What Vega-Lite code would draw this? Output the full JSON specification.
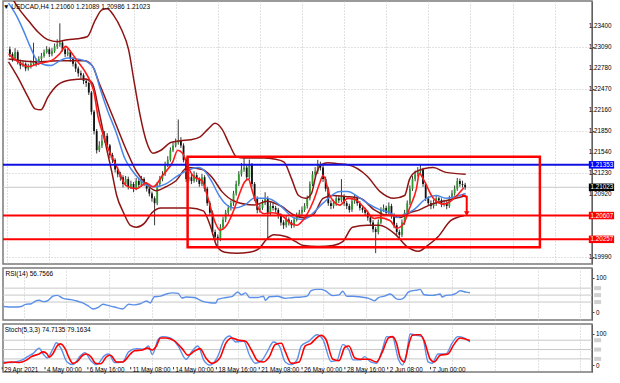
{
"$schema": "https://vega.github.io/schema/vega-lite/v6.json",
"padding": 0,
"background": "#ffffff",
"spacing": 2,
"config": {
 "view": {"stroke": "#7a7a7a", "strokeWidth": 1.5},
 "font": "Liberation Sans",
 "axis": {"labelFont": "Liberation Sans", "labelFontSize": 6.3, "labelColor": "#000000", "tickColor": "#404040", "domainColor": "#606060", "gridColor": "#c4c4c4", "gridDash": [1, 2], "gridWidth": 1},
 "title": {"font": "Liberation Sans", "fontSize": 6.5, "fontWeight": "normal", "color": "#000000", "anchor": "start"}
},
"datasets": {
 "candles": [
{"i":1,"o":1.23053,"h":1.23095,"l":1.22940,"c":1.22983},
{"i":2,"o":1.22983,"h":1.23010,"l":1.22870,"c":1.22912},
{"i":3,"o":1.22912,"h":1.23070,"l":1.22890,"c":1.23011},
{"i":4,"o":1.23011,"h":1.23040,"l":1.22830,"c":1.22869},
{"i":5,"o":1.22869,"h":1.22900,"l":1.22760,"c":1.22813},
{"i":6,"o":1.22813,"h":1.22880,"l":1.22790,"c":1.22841},
{"i":7,"o":1.22841,"h":1.22860,"l":1.22730,"c":1.22770},
{"i":8,"o":1.22770,"h":1.22840,"l":1.22740,"c":1.22799},
{"i":9,"o":1.22799,"h":1.22890,"l":1.22770,"c":1.22841},
{"i":10,"o":1.22841,"h":1.23150,"l":1.22820,"c":1.22883},
{"i":11,"o":1.22883,"h":1.22920,"l":1.22800,"c":1.22841},
{"i":12,"o":1.22841,"h":1.22950,"l":1.22820,"c":1.22912},
{"i":13,"o":1.22912,"h":1.23000,"l":1.22880,"c":1.22954},
{"i":14,"o":1.22954,"h":1.23050,"l":1.22930,"c":1.23011},
{"i":15,"o":1.23011,"h":1.23100,"l":1.22990,"c":1.23053},
{"i":16,"o":1.23053,"h":1.23080,"l":1.22940,"c":1.22983},
{"i":17,"o":1.22983,"h":1.23070,"l":1.22950,"c":1.23025},
{"i":18,"o":1.23025,"h":1.23140,"l":1.23000,"c":1.23096},
{"i":19,"o":1.23096,"h":1.23200,"l":1.23060,"c":1.23124},
{"i":20,"o":1.23124,"h":1.23435,"l":1.23090,"c":1.23152},
{"i":21,"o":1.23152,"h":1.23190,"l":1.23020,"c":1.23053},
{"i":22,"o":1.23053,"h":1.23080,"l":1.22940,"c":1.22983},
{"i":23,"o":1.22983,"h":1.23060,"l":1.22950,"c":1.23011},
{"i":24,"o":1.23011,"h":1.23040,"l":1.22870,"c":1.22912},
{"i":25,"o":1.22912,"h":1.22940,"l":1.22800,"c":1.22841},
{"i":26,"o":1.22841,"h":1.22870,"l":1.22720,"c":1.22770},
{"i":27,"o":1.22770,"h":1.22800,"l":1.22650,"c":1.22700},
{"i":28,"o":1.22700,"h":1.22740,"l":1.22620,"c":1.22671},
{"i":29,"o":1.22671,"h":1.22700,"l":1.22540,"c":1.22586},
{"i":30,"o":1.22586,"h":1.22620,"l":1.22500,"c":1.22558},
{"i":31,"o":1.22558,"h":1.22580,"l":1.22380,"c":1.22417},
{"i":32,"o":1.22417,"h":1.22440,"l":1.22090,"c":1.22134},
{"i":33,"o":1.22134,"h":1.22160,"l":1.21800,"c":1.21851},
{"i":34,"o":1.21851,"h":1.21880,"l":1.21520,"c":1.21568},
{"i":35,"o":1.21568,"h":1.21700,"l":1.21540,"c":1.21638},
{"i":36,"o":1.21638,"h":1.21800,"l":1.21600,"c":1.21709},
{"i":37,"o":1.21709,"h":1.21850,"l":1.21680,"c":1.21780},
{"i":38,"o":1.21780,"h":1.21820,"l":1.21600,"c":1.21638},
{"i":39,"o":1.21638,"h":1.21660,"l":1.21450,"c":1.21497},
{"i":40,"o":1.21497,"h":1.21530,"l":1.21380,"c":1.21426},
{"i":41,"o":1.21426,"h":1.21450,"l":1.21240,"c":1.21285},
{"i":42,"o":1.21285,"h":1.21320,"l":1.21170,"c":1.21214},
{"i":43,"o":1.21214,"h":1.21250,"l":1.21120,"c":1.21171},
{"i":44,"o":1.21171,"h":1.21200,"l":1.21020,"c":1.21072},
{"i":45,"o":1.21072,"h":1.21190,"l":1.21040,"c":1.21143},
{"i":46,"o":1.21143,"h":1.21180,"l":1.20990,"c":1.21030},
{"i":47,"o":1.21030,"h":1.21120,"l":1.21000,"c":1.21072},
{"i":48,"o":1.21072,"h":1.21100,"l":1.20950,"c":1.21002},
{"i":49,"o":1.21002,"h":1.21160,"l":1.20980,"c":1.21115},
{"i":50,"o":1.21115,"h":1.21150,"l":1.21010,"c":1.21058},
{"i":51,"o":1.21058,"h":1.21190,"l":1.21030,"c":1.21143},
{"i":52,"o":1.21143,"h":1.21170,"l":1.21040,"c":1.21072},
{"i":53,"o":1.21072,"h":1.21100,"l":1.20960,"c":1.21002},
{"i":54,"o":1.21002,"h":1.21030,"l":1.20890,"c":1.20931},
{"i":55,"o":1.20931,"h":1.20960,"l":1.20810,"c":1.20860},
{"i":56,"o":1.20860,"h":1.20890,"l":1.20464,"c":1.20789},
{"i":57,"o":1.20789,"h":1.21100,"l":1.20760,"c":1.21072},
{"i":58,"o":1.21072,"h":1.21190,"l":1.21040,"c":1.21143},
{"i":59,"o":1.21143,"h":1.21260,"l":1.21110,"c":1.21214},
{"i":60,"o":1.21214,"h":1.21400,"l":1.21190,"c":1.21355},
{"i":61,"o":1.21355,"h":1.21480,"l":1.21320,"c":1.21426},
{"i":62,"o":1.21426,"h":1.21610,"l":1.21400,"c":1.21568},
{"i":63,"o":1.21568,"h":1.21690,"l":1.21540,"c":1.21638},
{"i":64,"o":1.21638,"h":1.21740,"l":1.21610,"c":1.21681},
{"i":65,"o":1.21681,"h":1.22020,"l":1.21650,"c":1.21709},
{"i":66,"o":1.21709,"h":1.21760,"l":1.21600,"c":1.21638},
{"i":67,"o":1.21638,"h":1.21670,"l":1.21390,"c":1.21426},
{"i":68,"o":1.21426,"h":1.21460,"l":1.21100,"c":1.21143},
{"i":69,"o":1.21143,"h":1.21250,"l":1.21110,"c":1.21171},
{"i":70,"o":1.21171,"h":1.21220,"l":1.21070,"c":1.21115},
{"i":71,"o":1.21115,"h":1.21260,"l":1.21090,"c":1.21200},
{"i":72,"o":1.21200,"h":1.21240,"l":1.21100,"c":1.21143},
{"i":73,"o":1.21143,"h":1.21170,"l":1.21030,"c":1.21072},
{"i":74,"o":1.21072,"h":1.21220,"l":1.21040,"c":1.21171},
{"i":75,"o":1.21171,"h":1.21200,"l":1.20960,"c":1.21002},
{"i":76,"o":1.21002,"h":1.21030,"l":1.20750,"c":1.20789},
{"i":77,"o":1.20789,"h":1.20820,"l":1.20600,"c":1.20648},
{"i":78,"o":1.20648,"h":1.20680,"l":1.20320,"c":1.20365},
{"i":79,"o":1.20365,"h":1.20400,"l":1.20240,"c":1.20294},
{"i":80,"o":1.20294,"h":1.20330,"l":1.20153,"c":1.20266},
{"i":81,"o":1.20266,"h":1.20480,"l":1.20230,"c":1.20436},
{"i":82,"o":1.20436,"h":1.20590,"l":1.20400,"c":1.20549},
{"i":83,"o":1.20549,"h":1.20690,"l":1.20510,"c":1.20648},
{"i":84,"o":1.20648,"h":1.20760,"l":1.20610,"c":1.20719},
{"i":85,"o":1.20719,"h":1.20830,"l":1.20680,"c":1.20789},
{"i":86,"o":1.20789,"h":1.20970,"l":1.20750,"c":1.20931},
{"i":87,"o":1.20931,"h":1.21120,"l":1.20900,"c":1.21072},
{"i":88,"o":1.21072,"h":1.21260,"l":1.21040,"c":1.21214},
{"i":89,"o":1.21214,"h":1.21380,"l":1.21180,"c":1.21285},
{"i":90,"o":1.21285,"h":1.21454,"l":1.21250,"c":1.21313},
{"i":91,"o":1.21313,"h":1.21350,"l":1.21130,"c":1.21171},
{"i":92,"o":1.21171,"h":1.21430,"l":1.21140,"c":1.21355},
{"i":93,"o":1.21355,"h":1.21380,"l":1.21030,"c":1.21072},
{"i":94,"o":1.21072,"h":1.21100,"l":1.20820,"c":1.20860},
{"i":95,"o":1.20860,"h":1.20890,"l":1.20640,"c":1.20691},
{"i":96,"o":1.20691,"h":1.20780,"l":1.20650,"c":1.20719},
{"i":97,"o":1.20719,"h":1.20840,"l":1.20690,"c":1.20789},
{"i":98,"o":1.20789,"h":1.20950,"l":1.20760,"c":1.20860},
{"i":99,"o":1.20860,"h":1.20890,"l":1.20266,"c":1.20648},
{"i":100,"o":1.20648,"h":1.20800,"l":1.20610,"c":1.20747},
{"i":101,"o":1.20747,"h":1.20790,"l":1.20680,"c":1.20719},
{"i":102,"o":1.20719,"h":1.20750,"l":1.20650,"c":1.20691},
{"i":103,"o":1.20691,"h":1.20720,"l":1.20560,"c":1.20605},
{"i":104,"o":1.20605,"h":1.20640,"l":1.20460,"c":1.20506},
{"i":105,"o":1.20506,"h":1.20540,"l":1.20410,"c":1.20464},
{"i":106,"o":1.20464,"h":1.20600,"l":1.20430,"c":1.20549},
{"i":107,"o":1.20549,"h":1.20580,"l":1.20460,"c":1.20506},
{"i":108,"o":1.20506,"h":1.20540,"l":1.20420,"c":1.20464},
{"i":109,"o":1.20464,"h":1.20590,"l":1.20430,"c":1.20549},
{"i":110,"o":1.20549,"h":1.20650,"l":1.20520,"c":1.20605},
{"i":111,"o":1.20605,"h":1.20690,"l":1.20570,"c":1.20648},
{"i":112,"o":1.20648,"h":1.20740,"l":1.20610,"c":1.20691},
{"i":113,"o":1.20691,"h":1.20790,"l":1.20660,"c":1.20747},
{"i":114,"o":1.20747,"h":1.20900,"l":1.20710,"c":1.20860},
{"i":115,"o":1.20860,"h":1.21110,"l":1.20830,"c":1.21072},
{"i":116,"o":1.21072,"h":1.21260,"l":1.21040,"c":1.21214},
{"i":117,"o":1.21214,"h":1.21320,"l":1.21180,"c":1.21256},
{"i":118,"o":1.21256,"h":1.21426,"l":1.21220,"c":1.21355},
{"i":119,"o":1.21355,"h":1.21400,"l":1.21270,"c":1.21313},
{"i":120,"o":1.21313,"h":1.21350,"l":1.21100,"c":1.21143},
{"i":121,"o":1.21143,"h":1.21180,"l":1.20960,"c":1.21002},
{"i":122,"o":1.21002,"h":1.21030,"l":1.20750,"c":1.20789},
{"i":123,"o":1.20789,"h":1.20830,"l":1.20700,"c":1.20747},
{"i":124,"o":1.20747,"h":1.20840,"l":1.20710,"c":1.20789},
{"i":125,"o":1.20789,"h":1.20900,"l":1.20750,"c":1.20860},
{"i":126,"o":1.20860,"h":1.20900,"l":1.20790,"c":1.20832},
{"i":127,"o":1.20832,"h":1.21143,"l":1.20800,"c":1.20888},
{"i":128,"o":1.20888,"h":1.20920,"l":1.20750,"c":1.20789},
{"i":129,"o":1.20789,"h":1.20820,"l":1.20700,"c":1.20747},
{"i":130,"o":1.20747,"h":1.20780,"l":1.20650,"c":1.20691},
{"i":131,"o":1.20691,"h":1.20860,"l":1.20660,"c":1.20817},
{"i":132,"o":1.20817,"h":1.20910,"l":1.20780,"c":1.20860},
{"i":133,"o":1.20860,"h":1.20890,"l":1.20750,"c":1.20789},
{"i":134,"o":1.20789,"h":1.20820,"l":1.20680,"c":1.20719},
{"i":135,"o":1.20719,"h":1.20750,"l":1.20650,"c":1.20691},
{"i":136,"o":1.20691,"h":1.20720,"l":1.20600,"c":1.20648},
{"i":137,"o":1.20648,"h":1.20680,"l":1.20530,"c":1.20577},
{"i":138,"o":1.20577,"h":1.20610,"l":1.20460,"c":1.20506},
{"i":139,"o":1.20506,"h":1.20540,"l":1.20360,"c":1.20407},
{"i":140,"o":1.20407,"h":1.20440,"l":1.20054,"c":1.20365},
{"i":141,"o":1.20365,"h":1.20550,"l":1.20330,"c":1.20506},
{"i":142,"o":1.20506,"h":1.20730,"l":1.20480,"c":1.20691},
{"i":143,"o":1.20691,"h":1.20770,"l":1.20660,"c":1.20719},
{"i":144,"o":1.20719,"h":1.20750,"l":1.20610,"c":1.20648},
{"i":145,"o":1.20648,"h":1.20800,"l":1.20620,"c":1.20747},
{"i":146,"o":1.20747,"h":1.20780,"l":1.20560,"c":1.20605},
{"i":147,"o":1.20605,"h":1.20640,"l":1.20420,"c":1.20464},
{"i":148,"o":1.20464,"h":1.20500,"l":1.20320,"c":1.20365},
{"i":149,"o":1.20365,"h":1.20400,"l":1.20270,"c":1.20323},
{"i":150,"o":1.20323,"h":1.20550,"l":1.20290,"c":1.20506},
{"i":151,"o":1.20506,"h":1.20690,"l":1.20470,"c":1.20648},
{"i":152,"o":1.20648,"h":1.20830,"l":1.20610,"c":1.20789},
{"i":153,"o":1.20789,"h":1.21050,"l":1.20760,"c":1.21002},
{"i":154,"o":1.21002,"h":1.21190,"l":1.20970,"c":1.21143},
{"i":155,"o":1.21143,"h":1.21270,"l":1.21110,"c":1.21214},
{"i":156,"o":1.21214,"h":1.21320,"l":1.21180,"c":1.21256},
{"i":157,"o":1.21256,"h":1.21355,"l":1.21230,"c":1.21285},
{"i":158,"o":1.21285,"h":1.21310,"l":1.21030,"c":1.21072},
{"i":159,"o":1.21072,"h":1.21100,"l":1.20820,"c":1.20860},
{"i":160,"o":1.20860,"h":1.20890,"l":1.20750,"c":1.20789},
{"i":161,"o":1.20789,"h":1.20830,"l":1.20700,"c":1.20747},
{"i":162,"o":1.20747,"h":1.20840,"l":1.20710,"c":1.20789},
{"i":163,"o":1.20789,"h":1.20910,"l":1.20750,"c":1.20860},
{"i":164,"o":1.20860,"h":1.20880,"l":1.20790,"c":1.20832},
{"i":165,"o":1.20832,"h":1.20860,"l":1.20730,"c":1.20775},
{"i":166,"o":1.20775,"h":1.20840,"l":1.20740,"c":1.20789},
{"i":167,"o":1.20789,"h":1.20820,"l":1.20700,"c":1.20747},
{"i":168,"o":1.20747,"h":1.20900,"l":1.20720,"c":1.20860},
{"i":169,"o":1.20860,"h":1.20980,"l":1.20830,"c":1.20931},
{"i":170,"o":1.20931,"h":1.21050,"l":1.20900,"c":1.21002},
{"i":171,"o":1.21002,"h":1.21160,"l":1.20970,"c":1.21115},
{"i":172,"o":1.21115,"h":1.21150,"l":1.21030,"c":1.21072},
{"i":173,"o":1.21072,"h":1.21120,"l":1.21020,"c":1.21060},
{"i":174,"o":1.21060,"h":1.21089,"l":1.20986,"c":1.21023}
 ],
 "bb": [
{"b":"u","i":0.5,"v":1.23902},{"b":"u","i":4.2,"v":1.23662},{"b":"u","i":8.0,"v":1.23478},{"b":"u","i":11.7,"v":1.23308},{"b":"u","i":15.4,"v":1.23195},{"b":"u","i":19.2,"v":1.23166},{"b":"u","i":22.9,"v":1.23195},{"b":"u","i":26.6,"v":1.23209},{"b":"u","i":30.4,"v":1.23237},{"b":"u","i":33.4,"v":1.23478},{"b":"u","i":36.0,"v":1.23633},{"b":"u","i":37.9,"v":1.23648},{"b":"u","i":40.5,"v":1.23549},{"b":"u","i":43.5,"v":1.23336},{"b":"u","i":46.1,"v":1.23053},{"b":"u","i":48.3,"v":1.22558},{"b":"u","i":50.6,"v":1.22063},{"b":"u","i":52.8,"v":1.21709},{"b":"u","i":55.4,"v":1.21525},{"b":"u","i":58.4,"v":1.21568},{"b":"u","i":62.1,"v":1.21681},{"b":"u","i":65.9,"v":1.21709},{"b":"u","i":69.6,"v":1.21723},{"b":"u","i":73.3,"v":1.21766},{"b":"u","i":76.3,"v":1.21879},{"b":"u","i":79.0,"v":1.21964},{"b":"u","i":81.6,"v":1.21879},{"b":"u","i":84.6,"v":1.21638},{"b":"u","i":87.2,"v":1.21468},{"b":"u","i":90.2,"v":1.21454},{"b":"u","i":97.6,"v":1.21454},{"b":"u","i":101.4,"v":1.21440},{"b":"u","i":105.1,"v":1.21398},{"b":"u","i":108.1,"v":1.21143},{"b":"u","i":110.7,"v":1.20902},{"b":"u","i":113.3,"v":1.20860},{"b":"u","i":115.6,"v":1.20931},{"b":"u","i":117.4,"v":1.21214},{"b":"u","i":119.3,"v":1.21355},{"b":"u","i":121.9,"v":1.21384},{"b":"u","i":125.6,"v":1.21369},{"b":"u","i":129.4,"v":1.21355},{"b":"u","i":136.8,"v":1.21186},{"b":"u","i":141.7,"v":1.20959},{"b":"u","i":146.9,"v":1.20860},{"b":"u","i":151.0,"v":1.20902},{"b":"u","i":152.9,"v":1.21143},{"b":"u","i":155.5,"v":1.21256},{"b":"u","i":161.9,"v":1.21313},{"b":"u","i":166.7,"v":1.21242},{"b":"u","i":174.2,"v":1.21214},
{"b":"l","i":0.5,"v":1.22869},{"b":"l","i":4.2,"v":1.22629},{"b":"l","i":8.0,"v":1.22346},{"b":"l","i":10.6,"v":1.22176},{"b":"l","i":12.8,"v":1.22162},{"b":"l","i":15.4,"v":1.22346},{"b":"l","i":19.2,"v":1.22530},{"b":"l","i":24.0,"v":1.22600},{"b":"l","i":29.6,"v":1.22615},{"b":"l","i":32.3,"v":1.22558},{"b":"l","i":34.9,"v":1.22134},{"b":"l","i":37.9,"v":1.21568},{"b":"l","i":39.7,"v":1.21256},{"b":"l","i":41.6,"v":1.20902},{"b":"l","i":44.2,"v":1.20648},{"b":"l","i":46.8,"v":1.20464},{"b":"l","i":49.1,"v":1.20436},{"b":"l","i":52.1,"v":1.20492},{"b":"l","i":55.0,"v":1.20648},{"b":"l","i":58.4,"v":1.20719},{"b":"l","i":69.6,"v":1.20719},{"b":"l","i":74.5,"v":1.20676},{"b":"l","i":77.1,"v":1.20464},{"b":"l","i":79.7,"v":1.20153},{"b":"l","i":82.7,"v":1.20068},{"b":"l","i":87.2,"v":1.20054},{"b":"l","i":92.0,"v":1.20068},{"b":"l","i":95.8,"v":1.20124},{"b":"l","i":98.4,"v":1.20252},{"b":"l","i":101.4,"v":1.20323},{"b":"l","i":106.2,"v":1.20294},{"b":"l","i":109.6,"v":1.20223},{"b":"l","i":112.6,"v":1.20167},{"b":"l","i":118.2,"v":1.20153},{"b":"l","i":123.8,"v":1.20167},{"b":"l","i":127.5,"v":1.20223},{"b":"l","i":131.2,"v":1.20436},{"b":"l","i":136.8,"v":1.20464},{"b":"l","i":141.3,"v":1.20464},{"b":"l","i":147.3,"v":1.20337},{"b":"l","i":151.8,"v":1.20153},{"b":"l","i":156.3,"v":1.20082},{"b":"l","i":159.3,"v":1.20153},{"b":"l","i":163.7,"v":1.20294},{"b":"l","i":168.6,"v":1.20535},{"b":"l","i":173.5,"v":1.20605},
{"b":"m","i":0.5,"v":1.22912},{"b":"m","i":11.7,"v":1.22869},{"b":"m","i":20.3,"v":1.22883},{"b":"m","i":29.3,"v":1.22883},{"b":"m","i":32.3,"v":1.22813},{"b":"m","i":34.9,"v":1.22558},{"b":"m","i":37.9,"v":1.22275},{"b":"m","i":41.6,"v":1.21921},{"b":"m","i":45.3,"v":1.21568},{"b":"m","i":49.1,"v":1.21256},{"b":"m","i":52.8,"v":1.21072},{"b":"m","i":56.5,"v":1.20973},{"b":"m","i":60.3,"v":1.21030},{"b":"m","i":64.0,"v":1.21115},{"b":"m","i":68.5,"v":1.21313},{"b":"m","i":74.1,"v":1.21285},{"b":"m","i":77.8,"v":1.21171},{"b":"m","i":81.6,"v":1.20959},{"b":"m","i":86.4,"v":1.20817},{"b":"m","i":93.9,"v":1.20761},{"b":"m","i":98.7,"v":1.20817},{"b":"m","i":104.0,"v":1.20747},{"b":"m","i":108.8,"v":1.20619},{"b":"m","i":112.6,"v":1.20577},{"b":"m","i":116.3,"v":1.20619},{"b":"m","i":120.0,"v":1.20860},{"b":"m","i":123.8,"v":1.20902},{"b":"m","i":128.6,"v":1.20888},{"b":"m","i":134.2,"v":1.20860},{"b":"m","i":139.5,"v":1.20690},{"b":"m","i":143.2,"v":1.20619},{"b":"m","i":146.9,"v":1.20605},{"b":"m","i":149.2,"v":1.20577},{"b":"m","i":152.9,"v":1.20648},{"b":"m","i":156.6,"v":1.20690},{"b":"m","i":160.4,"v":1.20761},{"b":"m","i":165.6,"v":1.20817},{"b":"m","i":170.5,"v":1.20860},{"b":"m","i":174.2,"v":1.20902}
 ],
 "slow": [
{"i":0.5,"v":1.23732},{"i":3.5,"v":1.23549},{"i":6.1,"v":1.23336},{"i":8.7,"v":1.23096},{"i":11.7,"v":1.22869},{"i":16.6,"v":1.22813},{"i":19.9,"v":1.22883},{"i":22.9,"v":1.22926},{"i":26.6,"v":1.22912},{"i":30.4,"v":1.22869},{"i":33.0,"v":1.22770},{"i":35.2,"v":1.22487},{"i":37.9,"v":1.22176},{"i":41.6,"v":1.21808},{"i":44.6,"v":1.21454},{"i":47.2,"v":1.21285},{"i":50.2,"v":1.21143},{"i":53.5,"v":1.21044},{"i":56.5,"v":1.21030},{"i":60.3,"v":1.21072},{"i":64.0,"v":1.21171},{"i":67.7,"v":1.21256},{"i":72.6,"v":1.21313},{"i":75.2,"v":1.21256},{"i":77.8,"v":1.21101},{"i":80.1,"v":1.20931},{"i":82.7,"v":1.20789},{"i":86.4,"v":1.20719},{"i":90.2,"v":1.20761},{"i":93.9,"v":1.20860},{"i":98.7,"v":1.20860},{"i":104.0,"v":1.20747},{"i":108.8,"v":1.20577},{"i":112.6,"v":1.20549},{"i":116.3,"v":1.20648},{"i":120.0,"v":1.20789},{"i":126.4,"v":1.20959},{"i":129.4,"v":1.20959},{"i":133.1,"v":1.20888},{"i":136.8,"v":1.20789},{"i":141.7,"v":1.20690},{"i":145.4,"v":1.20648},{"i":148.1,"v":1.20577},{"i":149.9,"v":1.20605},{"i":154.4,"v":1.20690},{"i":159.3,"v":1.20860},{"i":163.0,"v":1.20902},{"i":166.7,"v":1.20860},{"i":170.5,"v":1.20888},{"i":174.2,"v":1.20931}
 ],
 "fast": [
{"i":0.5,"v":1.22983},{"i":4.2,"v":1.22869},{"i":8.0,"v":1.22799},{"i":11.7,"v":1.22841},{"i":16.6,"v":1.22883},{"i":19.9,"v":1.22983},{"i":22.2,"v":1.23096},{"i":24.0,"v":1.23025},{"i":26.6,"v":1.22883},{"i":29.3,"v":1.22742},{"i":31.5,"v":1.22586},{"i":33.0,"v":1.22417},{"i":34.5,"v":1.22063},{"i":36.0,"v":1.21851},{"i":37.9,"v":1.21638},{"i":41.6,"v":1.21327},{"i":45.3,"v":1.21044},{"i":49.1,"v":1.21002},{"i":52.8,"v":1.21086},{"i":55.4,"v":1.21030},{"i":59.1,"v":1.21200},{"i":62.9,"v":1.21398},{"i":64.8,"v":1.21568},{"i":66.6,"v":1.21525},{"i":68.5,"v":1.21341},{"i":70.7,"v":1.21186},{"i":74.1,"v":1.21115},{"i":76.3,"v":1.20860},{"i":79.0,"v":1.20506},{"i":80.8,"v":1.20393},{"i":83.4,"v":1.20464},{"i":86.4,"v":1.20719},{"i":88.3,"v":1.20931},{"i":90.2,"v":1.21101},{"i":91.6,"v":1.21143},{"i":93.1,"v":1.20973},{"i":95.0,"v":1.20747},{"i":97.6,"v":1.20634},{"i":100.6,"v":1.20648},{"i":104.0,"v":1.20619},{"i":107.7,"v":1.20492},{"i":110.0,"v":1.20464},{"i":112.6,"v":1.20549},{"i":116.3,"v":1.20817},{"i":118.9,"v":1.21101},{"i":120.0,"v":1.21200},{"i":122.7,"v":1.20888},{"i":126.4,"v":1.20761},{"i":129.4,"v":1.20860},{"i":132.0,"v":1.20846},{"i":135.7,"v":1.20719},{"i":139.5,"v":1.20563},{"i":141.3,"v":1.20577},{"i":145.4,"v":1.20535},{"i":148.1,"v":1.20421},{"i":150.7,"v":1.20492},{"i":152.9,"v":1.20719},{"i":155.5,"v":1.21002},{"i":156.6,"v":1.21228},{"i":158.1,"v":1.21143},{"i":161.9,"v":1.20860},{"i":165.6,"v":1.20775},{"i":167.9,"v":1.20803},{"i":170.5,"v":1.20888},{"i":173.5,"v":1.21016}
 ],
 "levels": [
{"k":"bid","p":1.21023,"t":"1.21023"},
{"k":"res","p":1.21353,"t":"1.21353"},
{"k":"sup","p":1.20607,"t":"1.20607"},
{"k":"sup","p":1.20257,"t":"1.20257"}
 ],
 "pticks": [
{"p":1.1999,"t":"1.19990"},{"p":1.2092,"t":"1.20920"},{"p":1.2123,"t":"1.21230"},{"p":1.2154,"t":"1.21540"},{"p":1.2185,"t":"1.21850"},{"p":1.2216,"t":"1.22160"},{"p":1.2247,"t":"1.22470"},{"p":1.2278,"t":"1.22780"},{"p":1.2309,"t":"1.23090"},{"p":1.234,"t":"1.23400"}
 ],
 "tlabels": [
{"i":0,"t":"29 Apr 2021"},{"i":16,"t":"4 May 00:00"},{"i":32,"t":"6 May 16:00"},{"i":48,"t":"11 May 08:00"},{"i":64,"t":"14 May 00:00"},{"i":80,"t":"18 May 16:00"},{"i":96,"t":"21 May 08:00"},{"i":112,"t":"26 May 00:00"},{"i":128,"t":"28 May 16:00"},{"i":144,"t":"2 Jun 08:00"},{"i":160,"t":"7 Jun 00:00"}
 ],
 "box": [{"i1":68.55,"i2":202.4,"p1":1.21472,"p2":1.20142}],
 "arrow": [{"n":1,"i":172.8,"p":1.20906},{"n":2,"i":174.6,"p":1.20883},{"n":3,"i":174.6,"p":1.20661}],
 "arrowHead": [{"i":174.6,"p":1.20635}],
 "rsi": [
{"i":0.5,"v":17.2},{"i":4.2,"v":15.7},{"i":7.2,"v":17.2},{"i":8.7,"v":23.5},{"i":10.9,"v":25.1},{"i":12.4,"v":32.9},{"i":13.8,"v":35.2},{"i":15.3,"v":31.3},{"i":16.8,"v":32.9},{"i":19.0,"v":46.9},{"i":20.5,"v":49.3},{"i":22.7,"v":40.7},{"i":25.7,"v":36.8},{"i":27.9,"v":32.9},{"i":30.1,"v":27.4},{"i":32.4,"v":17.2},{"i":33.9,"v":10.2},{"i":36.1,"v":15.7},{"i":37.6,"v":23.5},{"i":39.8,"v":19.6},{"i":42.0,"v":15.7},{"i":45.0,"v":10.2},{"i":47.2,"v":23.5},{"i":49.4,"v":22.0},{"i":51.6,"v":25.1},{"i":53.9,"v":32.9},{"i":55.3,"v":27.4},{"i":56.8,"v":45.4},{"i":59.1,"v":46.9},{"i":61.3,"v":53.2},{"i":63.5,"v":56.3},{"i":65.7,"v":54.8},{"i":67.2,"v":41.5},{"i":68.7,"v":44.6},{"i":71.7,"v":43.0},{"i":74.6,"v":32.9},{"i":77.6,"v":28.2},{"i":79.8,"v":27.4},{"i":80.5,"v":37.6},{"i":83.5,"v":43.0},{"i":85.7,"v":45.4},{"i":88.0,"v":58.7},{"i":89.4,"v":50.8},{"i":90.9,"v":56.3},{"i":92.4,"v":43.0},{"i":95.4,"v":43.0},{"i":97.6,"v":46.9},{"i":98.3,"v":35.2},{"i":99.8,"v":45.4},{"i":102.8,"v":46.9},{"i":105.7,"v":40.7},{"i":108.7,"v":43.0},{"i":111.7,"v":44.6},{"i":113.9,"v":46.9},{"i":115.4,"v":62.6},{"i":117.6,"v":66.5},{"i":119.1,"v":66.5},{"i":120.6,"v":62.6},{"i":123.5,"v":48.5},{"i":125.8,"v":50.8},{"i":127.2,"v":61.0},{"i":128.7,"v":46.9},{"i":131.0,"v":46.9},{"i":133.9,"v":44.6},{"i":136.9,"v":40.7},{"i":139.1,"v":33.7},{"i":140.6,"v":43.0},{"i":142.8,"v":46.9},{"i":145.0,"v":53.2},{"i":147.3,"v":39.1},{"i":148.7,"v":37.6},{"i":150.2,"v":43.0},{"i":151.7,"v":58.7},{"i":153.2,"v":62.6},{"i":154.7,"v":64.1},{"i":156.1,"v":66.5},{"i":157.6,"v":50.8},{"i":160.6,"v":49.3},{"i":162.1,"v":50.8},{"i":163.6,"v":53.2},{"i":164.3,"v":44.6},{"i":165.8,"v":49.3},{"i":168.0,"v":50.8},{"i":169.5,"v":54.8},{"i":171.0,"v":62.6},{"i":173.2,"v":58.7},{"i":174.7,"v":56.8}
 ],
 "rsiLv": [{"v":30},{"v":50},{"v":70}],
 "stLv": [{"v":20},{"v":50},{"v":80}],
 "stD": [
{"i":0.5,"v":5.9},{"i":3.5,"v":10.2},{"i":6.4,"v":8.5},{"i":8.7,"v":14.4},{"i":10.9,"v":27.3},{"i":13.8,"v":35.9},{"i":15.3,"v":42.7},{"i":16.8,"v":35.9},{"i":17.5,"v":25.6},{"i":19.0,"v":37.6},{"i":20.5,"v":61.6},{"i":21.7,"v":68.4},{"i":23.5,"v":53.0},{"i":25.0,"v":23.0},{"i":26.4,"v":5.9},{"i":27.9,"v":10.2},{"i":30.1,"v":31.6},{"i":31.6,"v":35.9},{"i":33.1,"v":27.3},{"i":34.9,"v":5.9},{"i":36.8,"v":4.2},{"i":39.0,"v":27.3},{"i":40.5,"v":31.6},{"i":42.7,"v":10.2},{"i":45.0,"v":10.2},{"i":47.9,"v":35.9},{"i":49.4,"v":46.1},{"i":52.4,"v":48.7},{"i":54.2,"v":54.7},{"i":56.1,"v":48.7},{"i":57.6,"v":61.6},{"i":59.1,"v":87.3},{"i":61.3,"v":87.3},{"i":64.2,"v":78.7},{"i":67.2,"v":53.0},{"i":69.4,"v":31.6},{"i":71.7,"v":44.4},{"i":73.9,"v":53.0},{"i":76.1,"v":23.0},{"i":78.3,"v":5.9},{"i":81.3,"v":23.0},{"i":83.5,"v":70.1},{"i":85.7,"v":87.3},{"i":88.0,"v":80.4},{"i":90.9,"v":77.0},{"i":93.1,"v":48.7},{"i":95.4,"v":14.4},{"i":97.6,"v":10.2},{"i":99.8,"v":27.3},{"i":102.0,"v":65.9},{"i":104.3,"v":70.1},{"i":105.7,"v":44.4},{"i":108.0,"v":5.9},{"i":110.9,"v":10.2},{"i":113.2,"v":61.6},{"i":115.4,"v":70.1},{"i":116.9,"v":83.0},{"i":119.1,"v":95.8},{"i":120.9,"v":83.0},{"i":123.5,"v":18.7},{"i":125.8,"v":14.4},{"i":128.0,"v":57.3},{"i":129.5,"v":61.6},{"i":131.7,"v":23.0},{"i":133.9,"v":18.7},{"i":136.9,"v":18.7},{"i":139.8,"v":10.2},{"i":142.1,"v":44.4},{"i":144.3,"v":87.3},{"i":145.8,"v":91.6},{"i":147.3,"v":70.1},{"i":148.7,"v":23.0},{"i":150.2,"v":10.2},{"i":151.7,"v":61.6},{"i":153.2,"v":95.8},{"i":154.7,"v":97.6},{"i":156.1,"v":97.6},{"i":157.6,"v":78.7},{"i":159.9,"v":18.7},{"i":161.3,"v":10.2},{"i":163.6,"v":31.6},{"i":166.5,"v":35.9},{"i":168.7,"v":65.9},{"i":171.0,"v":87.3},{"i":173.2,"v":83.0},{"i":174.7,"v":79.2}
 ],
 "stK": [
{"i":0.5,"v":10.2},{"i":2.7,"v":8.5},{"i":4.9,"v":10.2},{"i":7.9,"v":18.7},{"i":9.4,"v":27.3},{"i":11.6,"v":37.6},{"i":13.8,"v":54.7},{"i":15.3,"v":35.9},{"i":16.8,"v":23.0},{"i":19.0,"v":53.0},{"i":20.2,"v":71.8},{"i":22.0,"v":53.0},{"i":24.2,"v":10.2},{"i":26.4,"v":1.6},{"i":29.4,"v":31.6},{"i":30.9,"v":40.1},{"i":33.1,"v":14.4},{"i":35.3,"v":1.6},{"i":38.3,"v":31.6},{"i":39.8,"v":35.9},{"i":42.0,"v":8.5},{"i":45.0,"v":10.2},{"i":47.2,"v":42.7},{"i":50.2,"v":53.0},{"i":53.1,"v":51.3},{"i":54.6,"v":61.6},{"i":56.1,"v":34.2},{"i":58.3,"v":83.0},{"i":59.8,"v":91.6},{"i":62.8,"v":87.3},{"i":65.7,"v":61.6},{"i":68.7,"v":18.7},{"i":70.9,"v":44.4},{"i":73.1,"v":61.6},{"i":75.4,"v":14.4},{"i":77.6,"v":0},{"i":80.5,"v":27.3},{"i":82.8,"v":78.7},{"i":85.0,"v":93.3},{"i":87.2,"v":74.4},{"i":90.2,"v":77.0},{"i":92.4,"v":31.6},{"i":94.6,"v":5.9},{"i":96.9,"v":14.4},{"i":99.1,"v":44.4},{"i":101.3,"v":74.4},{"i":103.5,"v":61.6},{"i":105.7,"v":10.2},{"i":108.0,"v":1.6},{"i":110.2,"v":18.7},{"i":111.7,"v":61.6},{"i":114.6,"v":77.0},{"i":117.6,"v":97.6},{"i":119.8,"v":83.0},{"i":122.8,"v":11.9},{"i":125.0,"v":14.4},{"i":127.2,"v":65.9},{"i":129.5,"v":48.7},{"i":131.0,"v":17.0},{"i":133.9,"v":17.0},{"i":135.4,"v":27.3},{"i":137.6,"v":10.2},{"i":139.8,"v":5.9},{"i":142.1,"v":53.0},{"i":143.6,"v":91.6},{"i":145.8,"v":89.0},{"i":148.0,"v":18.7},{"i":149.5,"v":0},{"i":151.0,"v":35.9},{"i":152.4,"v":100},{"i":154.7,"v":95.8},{"i":156.9,"v":91.6},{"i":159.1,"v":10.2},{"i":160.6,"v":5.9},{"i":162.8,"v":35.9},{"i":165.8,"v":35.9},{"i":168.0,"v":70.1},{"i":170.2,"v":91.6},{"i":172.5,"v":87.3},{"i":174.7,"v":74.7}
 ]
},
"vconcat": [
{
 "width": 589, "height": 263,
 "title": {"text": "▼ USDCAD,H4  1.21060 1.21089 1.20986 1.21023", "offset": -9, "dx": 1},
 "layer": [
  {"data": {"name": "levels"}, "transform": [{"filter": "datum.k == 'bid'"}],
   "mark": {"type": "rule", "color": "#c8c8c8", "strokeWidth": 1},
   "encoding": {"y": {"field": "p", "type": "quantitative", "title": null, "scale": {"domain": [1.199676, 1.236902], "nice": false, "zero": false}}}},
  {"data": {"name": "candles"},
   "mark": {"type": "rule", "color": "#3a3a3a", "strokeWidth": 1},
   "encoding": {
    "x": {"field": "i", "type": "quantitative", "title": null, "scale": {"domain": [0.3, 220.3], "nice": false, "zero": false},
      "axis": {"orient": "bottom", "values": [0,8,16,24,32,40,48,56,64,72,80,88,96,104,112,120,128,136,144,152,160,168,176,184,192,200,208,216], "labels": false, "ticks": false, "domain": false, "grid": true, "title": null}},
    "y": {"field": "l", "type": "quantitative", "title": null, "scale": {"domain": [1.199676, 1.236902], "nice": false, "zero": false},
      "axis": {"orient": "right", "values": [1.1999,1.2092,1.2123,1.2154,1.2185,1.2216,1.2247,1.2278,1.2309,1.234], "labels": false, "grid": true, "tickSize": 2, "domain": true, "title": null}},
    "y2": {"field": "h"}}},
  {"data": {"name": "candles"},
   "mark": {"type": "bar", "size": 1.8},
   "encoding": {
    "x": {"field": "i", "type": "quantitative", "title": null},
    "y": {"field": "o", "type": "quantitative", "title": null},
    "y2": {"field": "c"},
    "color": {"condition": {"test": "datum.c >= datum.o", "value": "#2e9a2e"}, "value": "#111111"}}},
  {"data": {"name": "bb"},
   "mark": {"type": "line", "color": "#8e1414", "strokeWidth": 1.5, "interpolate": "monotone", "clip": true},
   "encoding": {
    "x": {"field": "i", "type": "quantitative", "title": null},
    "y": {"field": "v", "type": "quantitative", "title": null},
    "detail": {"field": "b"}}},
  {"data": {"name": "slow"},
   "mark": {"type": "line", "color": "#4a86e8", "strokeWidth": 1.5, "interpolate": "monotone", "clip": true},
   "encoding": {
    "x": {"field": "i", "type": "quantitative", "title": null},
    "y": {"field": "v", "type": "quantitative", "title": null}}},
  {"data": {"name": "fast"},
   "mark": {"type": "line", "color": "#ff1a1a", "strokeWidth": 1.6, "interpolate": "monotone", "clip": true},
   "encoding": {
    "x": {"field": "i", "type": "quantitative", "title": null},
    "y": {"field": "v", "type": "quantitative", "title": null}}},
  {"data": {"name": "levels"}, "transform": [{"filter": "datum.k != 'bid'"}],
   "mark": {"type": "rule", "strokeWidth": 2},
   "encoding": {
    "y": {"field": "p", "type": "quantitative", "title": null},
    "color": {"condition": {"test": "datum.k == 'res'", "value": "#1010e0"}, "value": "#ff0000"}}},
  {"data": {"name": "box"},
   "mark": {"type": "rect", "filled": false, "stroke": "#ff0000", "strokeWidth": 2.5},
   "encoding": {
    "x": {"field": "i1", "type": "quantitative", "title": null},
    "x2": {"field": "i2"},
    "y": {"field": "p1", "type": "quantitative", "title": null},
    "y2": {"field": "p2"}}},
  {"data": {"name": "arrow"},
   "mark": {"type": "line", "color": "#ff0000", "strokeWidth": 2},
   "encoding": {
    "x": {"field": "i", "type": "quantitative", "title": null},
    "y": {"field": "p", "type": "quantitative", "title": null},
    "order": {"field": "n"}}},
  {"data": {"name": "arrowHead"},
   "mark": {"type": "point", "shape": "triangle-down", "filled": true, "color": "#ff0000", "size": 30, "opacity": 1},
   "encoding": {
    "x": {"field": "i", "type": "quantitative", "title": null},
    "y": {"field": "p", "type": "quantitative", "title": null}}},
  {"data": {"name": "pticks"},
   "mark": {"type": "text", "color": "#000000", "fontSize": 6.3, "align": "left", "baseline": "middle", "font": "Liberation Sans"},
   "encoding": {
    "x": {"datum": 221.0, "type": "quantitative"},
    "y": {"field": "p", "type": "quantitative", "title": null},
    "text": {"field": "t"}}},
  {"data": {"name": "levels"},
   "mark": {"type": "bar", "size": 7.5},
   "encoding": {
    "x": {"datum": 221.0, "type": "quantitative"},
    "x2": {"datum": 230.6},
    "y": {"field": "p", "type": "quantitative", "title": null},
    "color": {"condition": [{"test": "datum.k == 'res'", "value": "#0000ff"}, {"test": "datum.k == 'bid'", "value": "#000000"}], "value": "#ff0000"}}},
  {"data": {"name": "levels"},
   "mark": {"type": "text", "color": "#ffffff", "fontSize": 6.3, "align": "left", "baseline": "middle", "font": "Liberation Sans"},
   "encoding": {
    "x": {"datum": 221.6, "type": "quantitative"},
    "y": {"field": "p", "type": "quantitative", "title": null},
    "text": {"field": "t"}}}
 ]
},
{
 "width": 589, "height": 52,
 "title": {"text": "RSI(14) 56.7566", "offset": -9, "dx": 3},
 "layer": [
  {"data": {"name": "rsiLv"},
   "mark": {"type": "rule", "color": "#c8c8c8", "strokeWidth": 1},
   "encoding": {"y": {"field": "v", "type": "quantitative", "title": null, "scale": {"domain": [-7.2, 113.5], "nice": false, "zero": false},
     "axis": {"orient": "right", "values": [0, 100], "grid": false, "tickSize": 2, "labelPadding": 1.5, "title": null}}}},
  {"data": {"name": "rsi"},
   "mark": {"type": "line", "color": "#5b8fe8", "strokeWidth": 1.4, "interpolate": "monotone", "clip": true},
   "encoding": {
    "x": {"field": "i", "type": "quantitative", "title": null, "scale": {"domain": [0.3, 220.3], "nice": false, "zero": false},
      "axis": {"orient": "bottom", "values": [0,8,16,24,32,40,48,56,64,72,80,88,96,104,112,120,128,136,144,152,160,168,176,184,192,200,208,216], "labels": false, "ticks": false, "domain": false, "grid": true, "title": null}},
    "y": {"field": "v", "type": "quantitative", "title": null}}},
  {"data": {"name": "rsiLv"},
   "mark": {"type": "bar", "size": 4, "color": "#d0d0d0"},
   "encoding": {
    "x": {"datum": 221.1, "type": "quantitative"},
    "x2": {"datum": 223.7},
    "y": {"field": "v", "type": "quantitative", "title": null}}}
 ]
},
{
 "width": 589, "height": 48,
 "title": {"text": "Stoch(5,3,3) 74.7135 79.1634", "offset": -9, "dx": 3},
 "layer": [
  {"data": {"name": "stLv"},
   "mark": {"type": "rule", "color": "#c8c8c8", "strokeWidth": 1},
   "encoding": {"y": {"field": "v", "type": "quantitative", "title": null, "scale": {"domain": [-6, 116], "nice": false, "zero": false},
     "axis": {"orient": "right", "values": [0, 100], "grid": false, "tickSize": 2, "labelPadding": 1.5, "title": null}}}},
  {"data": {"name": "stK"},
   "mark": {"type": "line", "color": "#5b8fe8", "strokeWidth": 1.4, "interpolate": "monotone", "clip": true},
   "encoding": {
    "x": {"field": "i", "type": "quantitative", "title": null, "scale": {"domain": [0.3, 220.3], "nice": false, "zero": false},
      "axis": {"orient": "bottom", "values": [0,8,16,24,32,40,48,56,64,72,80,88,96,104,112,120,128,136,144,152,160,168,176,184,192,200,208,216], "labels": false, "ticks": false, "domain": false, "grid": true, "title": null}},
    "y": {"field": "v", "type": "quantitative", "title": null}}},
  {"data": {"name": "stD"},
   "mark": {"type": "line", "color": "#ff0000", "strokeWidth": 1.6, "interpolate": "monotone", "clip": true},
   "encoding": {
    "x": {"field": "i", "type": "quantitative", "title": null},
    "y": {"field": "v", "type": "quantitative", "title": null}}},
  {"data": {"name": "stLv"},
   "mark": {"type": "bar", "size": 4, "color": "#d0d0d0"},
   "encoding": {
    "x": {"datum": 221.1, "type": "quantitative"},
    "x2": {"datum": 223.7},
    "y": {"field": "v", "type": "quantitative", "title": null}}},
  {"data": {"name": "tlabels"},
   "mark": {"type": "rule", "color": "#404040", "strokeWidth": 1},
   "encoding": {
    "x": {"field": "i", "type": "quantitative", "title": null},
    "y": {"datum": -6},
    "y2": {"datum": -13.6}}},
  {"data": {"name": "tlabels"},
   "mark": {"type": "text", "color": "#000000", "fontSize": 6.3, "align": "left", "baseline": "top", "dx": 2, "font": "Liberation Sans"},
   "encoding": {
    "x": {"field": "i", "type": "quantitative", "title": null},
    "y": {"datum": -7.5},
    "text": {"field": "t"}}}
 ]
}
]
}
